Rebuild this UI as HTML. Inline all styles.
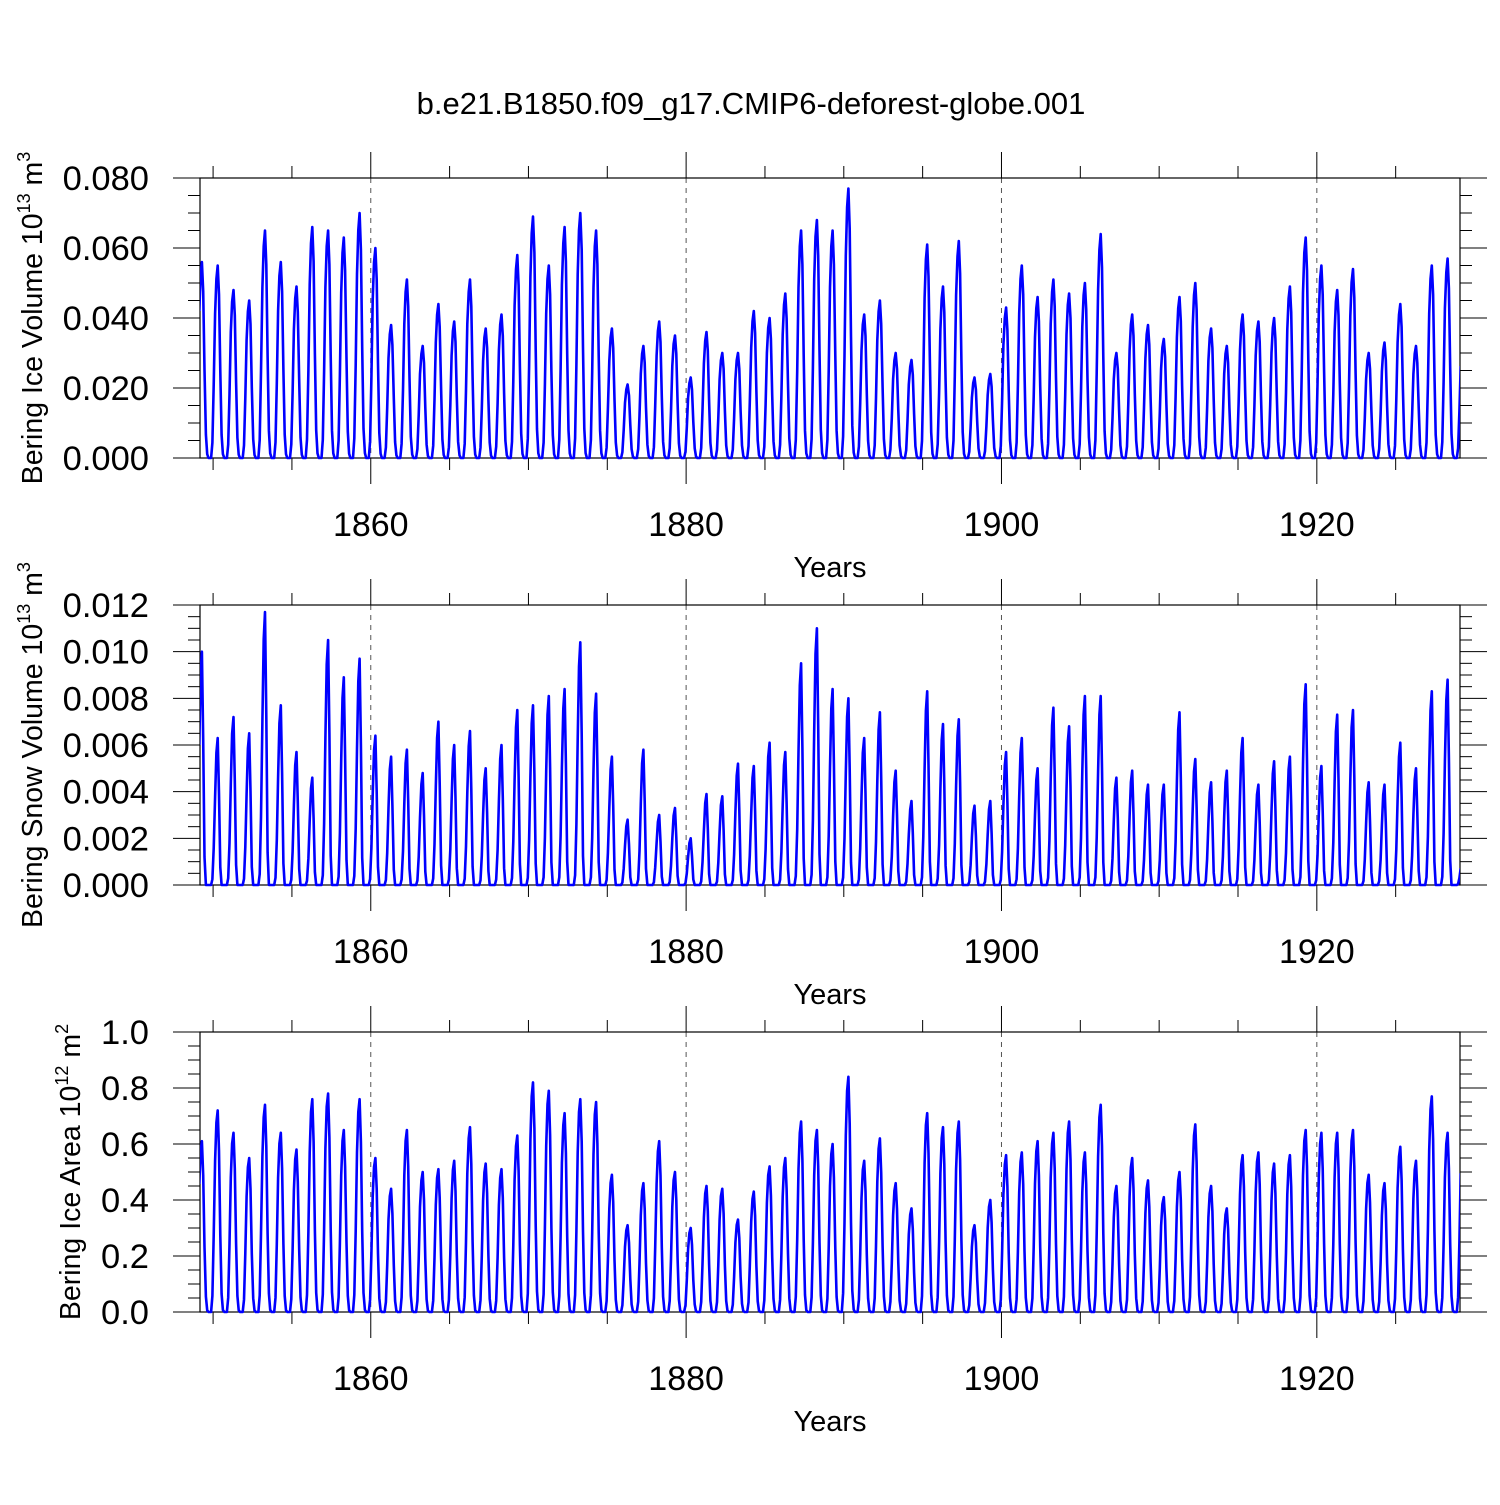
<!DOCTYPE html>
<html><head><meta charset="utf-8"><style>
body{margin:0;background:#fff}
svg text{font-family:"Liberation Sans",sans-serif;fill:#000}
</style></head><body>
<svg id="chart" width="1500" height="1500" viewBox="0 0 1500 1500" xmlns="http://www.w3.org/2000/svg">
<text x="751" y="114" font-size="31" text-anchor="middle">b.e21.B1850.f09_g17.CMIP6-deforest-globe.001</text>
</svg>
<script>
// Years and annual (winter) peak values, 1849..1929
const firstYear = 1849;
const icePeaks = [0.056,0.055,0.048,0.045,0.065,0.056,0.049,0.066,0.065,0.063,0.070,0.060,0.038,0.051,0.032,0.044,0.039,0.051,0.037,0.041,0.058,0.069,0.055,0.066,0.070,0.065,0.037,0.021,0.032,0.039,0.035,0.023,0.036,0.030,0.030,0.042,0.040,0.047,0.065,0.068,0.065,0.077,0.041,0.045,0.030,0.028,0.061,0.049,0.062,0.023,0.024,0.043,0.055,0.046,0.051,0.047,0.050,0.064,0.030,0.041,0.038,0.034,0.046,0.050,0.037,0.032,0.041,0.039,0.040,0.049,0.063,0.055,0.048,0.054,0.030,0.033,0.044,0.032,0.055,0.057,0.035];
const snowPeaks = [0.0100,0.0063,0.0072,0.0065,0.0117,0.0077,0.0057,0.0046,0.0105,0.0089,0.0097,0.0064,0.0055,0.0058,0.0048,0.0070,0.0060,0.0066,0.0050,0.0060,0.0075,0.0077,0.0081,0.0084,0.0104,0.0082,0.0055,0.0028,0.0058,0.0030,0.0033,0.0020,0.0039,0.0038,0.0052,0.0051,0.0061,0.0057,0.0095,0.0110,0.0084,0.0080,0.0063,0.0074,0.0049,0.0036,0.0083,0.0069,0.0071,0.0034,0.0036,0.0057,0.0063,0.0050,0.0076,0.0068,0.0081,0.0081,0.0046,0.0049,0.0043,0.0043,0.0074,0.0054,0.0044,0.0049,0.0063,0.0043,0.0053,0.0055,0.0086,0.0051,0.0073,0.0075,0.0044,0.0043,0.0061,0.0050,0.0083,0.0088,0.0012];
const areaPeaks = [0.61,0.72,0.64,0.55,0.74,0.64,0.58,0.76,0.78,0.65,0.76,0.55,0.44,0.65,0.50,0.51,0.54,0.66,0.53,0.51,0.63,0.82,0.79,0.71,0.76,0.75,0.49,0.31,0.46,0.61,0.50,0.30,0.45,0.44,0.33,0.43,0.52,0.55,0.68,0.65,0.60,0.84,0.54,0.62,0.46,0.37,0.71,0.66,0.68,0.31,0.40,0.56,0.57,0.61,0.64,0.68,0.57,0.74,0.45,0.55,0.47,0.41,0.50,0.67,0.45,0.37,0.56,0.57,0.53,0.56,0.65,0.64,0.64,0.65,0.49,0.46,0.59,0.54,0.77,0.64,0.66];
// Typical monthly fraction of the winter peak (Jan..Dec)
const iceShape = [0.75,0.93,1.0,0.85,0.45,0.12,0.02,0,0,0,0.08,0.38];
const snowShape = [0.6,0.9,1.0,0.62,0.12,0,0,0,0,0,0.04,0.25];
const areaShape = [0.75,0.94,1.0,0.8,0.38,0.09,0.01,0,0,0,0.08,0.38];
const xTickLabels = ["1860","1880","1900","1920"];
const iceTicks = ["0.000","0.020","0.040","0.060","0.080"];
const snowTicks = ["0.000","0.002","0.004","0.006","0.008","0.010","0.012"];
const areaTicks = ["0.0","0.2","0.4","0.6","0.8","1.0"];

const NS = "http://www.w3.org/2000/svg";
const svg = document.getElementById('chart');
const X0 = 200, X1 = 1460, T0 = 1849.17, T1 = 1929.08;
function xs(t){ return X0 + (t - T0) * (X1 - X0) / (T1 - T0); }
function mk(tag, attrs, parent){
  const e = document.createElementNS(NS, tag);
  for (const k in attrs) e.setAttribute(k, attrs[k]);
  (parent || svg).appendChild(e);
  return e;
}

const panels = [
  {top:178, bot:458, max:0.08, minorStep:0.005, peaks:icePeaks, shape:iceShape, ticks:iceTicks, label:"Bering Ice Volume 10", sup:"13", unit:" m", usup:"3", name:"ice-volume", lx:42},
  {top:605, bot:885, max:0.012, minorStep:0.0005, peaks:snowPeaks, shape:snowShape, ticks:snowTicks, label:"Bering Snow Volume 10", sup:"13", unit:" m", usup:"3", name:"snow-volume", lx:42},
  {top:1032, bot:1312, max:1.0, minorStep:0.05, peaks:areaPeaks, shape:areaShape, ticks:areaTicks, label:"Bering Ice Area 10", sup:"12", unit:" m", usup:"2", name:"ice-area", lx:80}
];

panels.forEach((p, pi) => {
  const g = mk('g', {});
  
  
  const ys = v => p.bot - v / p.max * (p.bot - p.top);
  xTickLabels.forEach(l => {
    const x = xs(+l);
    const gl = mk('line', {x1:x, x2:x, y1:p.top, y2:p.bot, stroke:'#555', 'stroke-width':1, 'stroke-dasharray':'5,5'}, g);
    
    
  });
  const nMinor = Math.round(p.max / p.minorStep);
  for (let i = 0; i <= nMinor; i++) {
    const y = ys(i * p.minorStep);
    const major = i % 4 === 0;
    const L = major ? 27 : 12;
    mk('line', {x1:X0 - L, x2:X0, y1:y, y2:y, stroke:'#000', 'stroke-width':1}, g);
    mk('line', {x1:X1, x2:X1 + L, y1:y, y2:y, stroke:'#000', 'stroke-width':1}, g);
  }
  p.ticks.forEach((l, i) => {
    const t = mk('text', {x:149, y:ys(+l) + 12, 'font-size':34.5, 'text-anchor':'end'}, g);
    t.textContent = l;
    
    
  });
  for (let yr = 1850; yr <= 1925; yr += 5) {
    const x = xs(yr);
    const major = yr % 20 === 0;
    const L = major ? 26 : 12;
    mk('line', {x1:x, x2:x, y1:p.top - L, y2:p.top, stroke:'#000', 'stroke-width':1}, g);
    mk('line', {x1:x, x2:x, y1:p.bot, y2:p.bot + L, stroke:'#000', 'stroke-width':1}, g);
  }
  xTickLabels.forEach(l => {
    const t = mk('text', {x:xs(+l), y:p.bot + 78, 'font-size':34, 'text-anchor':'middle'}, g);
    t.textContent = l;
    
    
  });
  const xt = mk('text', {x:830, y:p.bot + 119, 'font-size':29, 'text-anchor':'middle'}, g);
  xt.textContent = 'Years';
  
  
  const cy = (p.top + p.bot) / 2;
  const yt = mk('text', {x:0, y:0, 'font-size':28.5, 'text-anchor':'middle', transform:`translate(${p.lx},${cy}) rotate(-90)`}, g);
  
  
  const s1 = mk('tspan', {}, yt); s1.textContent = p.label;
  const s2 = mk('tspan', {dy:-12, 'font-size':18}, yt); s2.textContent = p.sup;
  const s3 = mk('tspan', {dy:12}, yt); s3.textContent = p.unit;
  const s4 = mk('tspan', {dy:-12, 'font-size':18}, yt); s4.textContent = p.usup;
  mk('rect', {x:X0, y:p.top, width:X1 - X0, height:p.bot - p.top, fill:'none', stroke:'#000', 'stroke-width':1.2}, g);
  const cid = 'clip' + pi;
  const cp = mk('clipPath', {id:cid}, g);
  mk('rect', {x:X0, y:p.top - 20, width:X1 - X0, height:p.bot - p.top + 40}, cp);
  const pts = [];
  const nYears = p.peaks.length - 1;
  for (let yi = 0; yi < nYears; yi++) {
    for (let m = 0; m < 12; m++) {
      const pk = m >= 10 ? p.peaks[yi + 1] : p.peaks[yi];
      const v = pk * p.shape[m];
      const t = firstYear + yi + (m + 1.5) / 12;
      pts.push(xs(t).toFixed(1) + ',' + ys(v).toFixed(1));
    }
  }
  const lastT = firstYear + nYears + 1.5 / 12;
  pts.push(xs(lastT).toFixed(1) + ',' + ys(p.peaks[nYears] * p.shape[0]).toFixed(1));
  const line = mk('polyline', {points:pts.join(' '), fill:'none', stroke:'#0000ff', 'stroke-width':2.6, 'stroke-linejoin':'round', 'clip-path':`url(#${cid})`}, g);
  
  
});
</script>
</body></html>
